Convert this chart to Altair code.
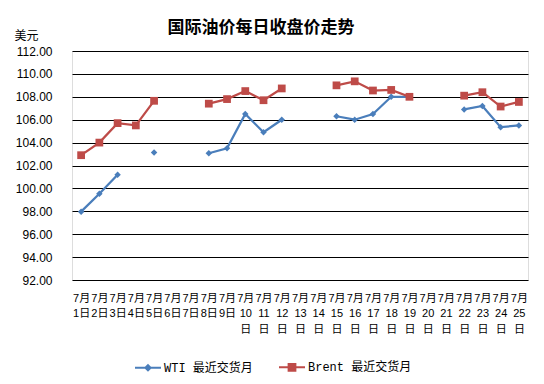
import altair as alt
import pandas as pd

days = list(range(1, 26))
x_labels = [f"7月|{d}日" if d < 10 else f"7月|{d}|日" for d in days]

wti = [97.97, 99.53, 101.2, None, 103.13, None, None, 103.07, 103.5, 106.5,
       104.9, 106.0, None, None, 106.3, 106.0, 106.5, 108.0, 108.0, None,
       None, 106.9, 107.2, 105.35, 105.5]
brent = [102.9, 104.0, 105.7, 105.5, 107.65, None, None, 107.4, 107.8, 108.5,
         107.7, 108.73, None, None, 109.0, 109.35, 108.55, 108.6, 108.0, None,
         None, 108.1, 108.4, 107.15, 107.55]

series_names = ["WTI 最近交货月", "Brent 最近交货月"]
colors = ["#4A7EBB", "#BE4B48"]
y_ticks = [92, 94, 96, 98, 100, 102, 104, 106, 108, 110, 112]

rows = []
for name, vals in zip(series_names, [wti, brent]):
    seg = 0
    prev = None
    for lab, v in zip(x_labels, vals):
        if v is None:
            prev = None
            continue
        if prev is None:
            seg += 1
        rows.append({"day": lab, "price": v, "series": name, "seg": f"{name}-{seg}"})
        prev = v
df = pd.DataFrame(rows)

FONT = "Liberation Sans, Noto Sans CJK SC"

x = alt.X("day:N", scale=alt.Scale(domain=x_labels, padding=0.5),
          axis=alt.Axis(title=None, labelExpr="split(datum.value, '|')", labelAngle=0,
                        ticks=False, domain=False, grid=False, labelOverlap=False,
                        labelPadding=12, labelFontSize=11, labelLineHeight=15.5,
                        labelBaseline="top", labelColor="black", labelFont=FONT))
y = alt.Y("price:Q", scale=alt.Scale(domain=[92, 112], nice=False, zero=False),
          axis=alt.Axis(values=y_ticks, format=".2f", title="美元", titleAngle=0,
                        titleX=-58, titleY=-9, titleAlign="left", titleBaseline="bottom",
                        titleFontWeight="normal", titleFontSize=12, titleFont=FONT,
                        titleColor="black",
                        ticks=False, domain=False, grid=True, gridColor="black",
                        gridOpacity=1, gridWidth=1, labelPadding=20, labelFontSize=12,
                        labelColor="black", labelFont=FONT))

wti_path = "M-1,0L1,0M0,-0.2L0.2,0L0,0.2L-0.2,0Z"
brent_path = ("M-1,0L1,0M-0.26,-0.26H0.26V0.26H-0.26Z"
              "M-0.15,-0.15H0.15V0.15H-0.15ZM-0.05,-0.05H0.05V0.05H-0.05Z")

color = alt.Color("series:N", scale=alt.Scale(domain=series_names, range=colors),
                  legend=alt.Legend(orient="none", legendX=62, legendY=302,
                                    direction="horizontal", title=None,
                                    symbolSize=676, symbolStrokeWidth=2,
                                    symbolFillColor="transparent",
                                    labelFont="Liberation Mono, Noto Sans CJK SC",
                                    labelFontSize=12, labelColor="black",
                                    columnPadding=22, labelOffset=2))

base = alt.Chart(df)

lines = base.mark_line(strokeWidth=2.25).encode(x=x, y=y, color=color, detail="seg:N")
wti_pts = base.mark_point(shape="diamond", filled=True, size=42, opacity=1).encode(
    x=x, y=y, color=color).transform_filter(alt.datum.series == series_names[0])
brent_pts = base.mark_point(shape="square", filled=True, size=60, opacity=1).encode(
    x=x, y=y, color=color).transform_filter(alt.datum.series == series_names[1])
legend_layer = base.mark_point(filled=False, opacity=1, strokeWidth=2).encode(
    x=x, y=y, color=color,
    shape=alt.Shape("series:N", scale=alt.Scale(domain=series_names,
                                                range=[wti_path, brent_path]))
).transform_filter("false")

chart = alt.layer(lines, wti_pts, brent_pts, legend_layer).properties(
    width=456, height=229,
    title=alt.TitleParams("国际油价每日收盘价走势", fontSize=17, fontWeight="bold",
                          font="Noto Sans CJK SC", color="black", anchor="middle",
                          frame="group", dx=-39, offset=-8),
    autosize=alt.AutoSizeParams(type="none"),
    padding={"left": 64, "top": 43, "right": 8, "bottom": 100},
).configure_view(stroke=None).configure(background="white")

chart.save("out.html", embed_options={"renderer": "svg", "actions": False})
